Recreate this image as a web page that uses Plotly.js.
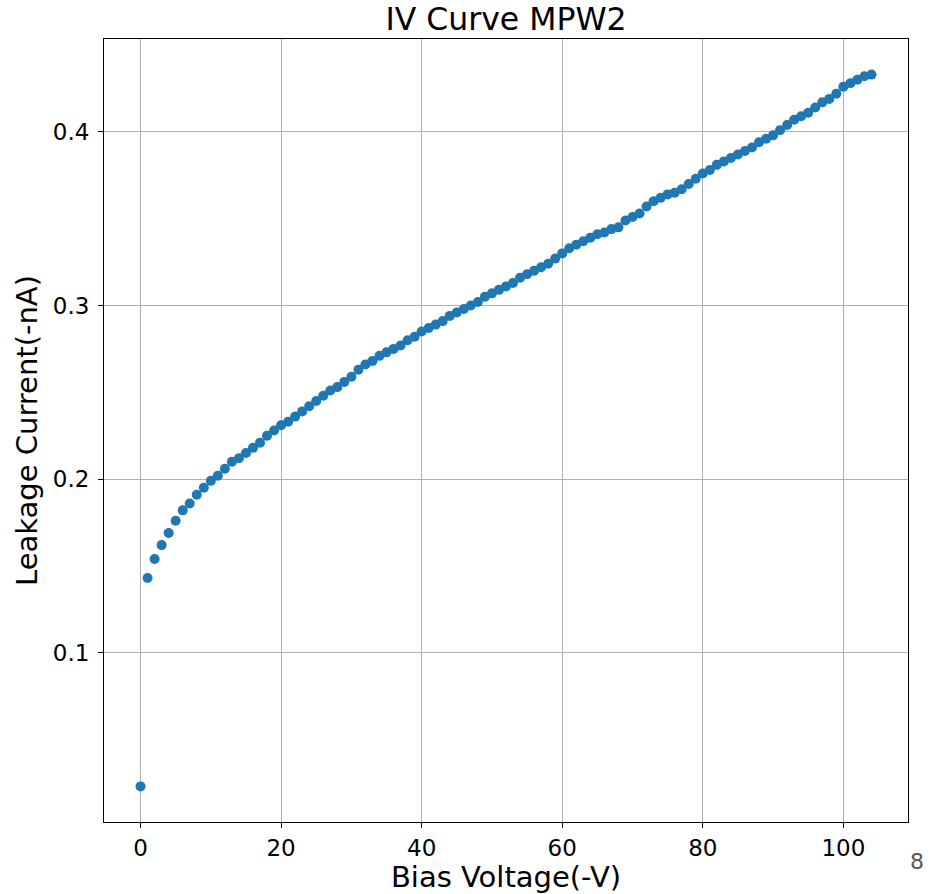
<!DOCTYPE html>
<html>
<head>
<meta charset="utf-8">
<script src="https://cdn.plot.ly/plotly-3.0.1.min.js"></script>
<style>html,body{margin:0;padding:0;background:#fff;}#chart{width:936px;height:894px;}</style>
</head>
<body>
<div id="chart"></div>
<script>
// Bias voltage (-V)
const biasVoltage = [
  0,1,2,3,4,5,6,7,8,9,10,11,12,13,14,15,16,17,18,19,20,
  21,22,23,24,25,26,27,28,29,30,31,32,33,34,35,36,37,38,39,40,
  41,42,43,44,45,46,47,48,49,50,51,52,53,54,55,56,57,58,59,60,
  61,62,63,64,65,66,67,68,69,70,71,72,73,74,75,76,77,78,79,80,
  81,82,83,84,85,86,87,88,89,90,91,92,93,94,95,96,97,98,99,100,
  101,102,103,104
];
// Leakage current (-nA)
const leakageCurrent = [
  0.023,0.143,0.154,0.162,0.169,0.176,0.182,0.186,0.191,0.195,0.199,
  0.202,0.206,0.210,0.212,0.215,0.218,0.221,0.225,0.228,0.231,
  0.233,0.236,0.239,0.242,0.245,0.248,0.251,0.253,0.256,0.259,
  0.263,0.266,0.268,0.271,0.273,0.275,0.277,0.280,0.282,0.285,
  0.287,0.289,0.291,0.294,0.296,0.298,0.300,0.302,0.305,0.307,
  0.309,0.311,0.313,0.316,0.318,0.320,0.322,0.324,0.327,0.330,
  0.333,0.335,0.337,0.339,0.341,0.342,0.344,0.345,0.349,0.351,
  0.353,0.357,0.360,0.362,0.364,0.365,0.367,0.370,0.373,0.376,
  0.378,0.381,0.383,0.385,0.387,0.389,0.391,0.394,0.396,0.398,
  0.401,0.404,0.407,0.409,0.411,0.414,0.417,0.419,0.422,0.426,
  0.428,0.430,0.432,0.433
];
const xTicks = [0,20,40,60,80,100];
const yTicks = [0.1,0.2,0.3,0.4];
const yTickText = ['0.1','0.2','0.3','0.4'];

const FONT = 'DejaVu Sans, sans-serif';

const trace = {
  x: biasVoltage,
  y: leakageCurrent,
  type: 'scatter',
  mode: 'markers',
  marker: {color: '#1f77b4', size: 10, line: {width: 0}},
  hoverinfo: 'x+y'
};

const axisCommon = {
  showgrid: true,
  gridcolor: '#b0b0b0',
  gridwidth: 1,
  zeroline: false,
  showline: true,
  linecolor: '#000',
  linewidth: 1,
  mirror: true,
  ticks: 'outside',
  ticklen: 5,
  tickwidth: 1,
  tickcolor: '#000',
  tickfont: {family: FONT, size: 23, color: '#000'}
};

const layout = {
  width: 936,
  height: 894,
  margin: {l: 104, r: 28, t: 39, b: 72},
  paper_bgcolor: '#fff',
  plot_bgcolor: '#fff',
  showlegend: false,
  title: {
    text: 'IV Curve MPW2',
    font: {family: FONT, size: 31.5, color: '#000'},
    xref: 'paper', x: 0.5, xanchor: 'center',
    yref: 'container', y: 1 - 19/894, yanchor: 'middle'
  },
  xaxis: Object.assign({}, axisCommon, {
    range: [-5.2, 109.2],
    tickmode: 'array',
    tickvals: xTicks,
    ticktext: xTicks.map(String),
    title: {text: 'Bias Voltage(-V)', font: {family: FONT, size: 29, color: '#000'}, standoff: 2}
  }),
  yaxis: Object.assign({}, axisCommon, {
    range: [0.0025, 0.4535],
    tickmode: 'array',
    tickvals: yTicks,
    ticktext: yTickText,
    ticklabelstandoff: 4,
    title: {text: 'Leakage Current(-nA)', font: {family: FONT, size: 29, color: '#000'}, standoff: 6}
  }),
  annotations: [{
    text: '8', xref: 'paper', yref: 'paper',
    x: (917-104)/804, y: -(862-822)/783,
    xanchor: 'center', yanchor: 'middle',
    showarrow: false,
    font: {family: FONT, size: 22, color: '#555'}
  }]
};

Plotly.newPlot('chart', [trace], layout, {displayModeBar: false, responsive: false});
</script>
</body>
</html>
